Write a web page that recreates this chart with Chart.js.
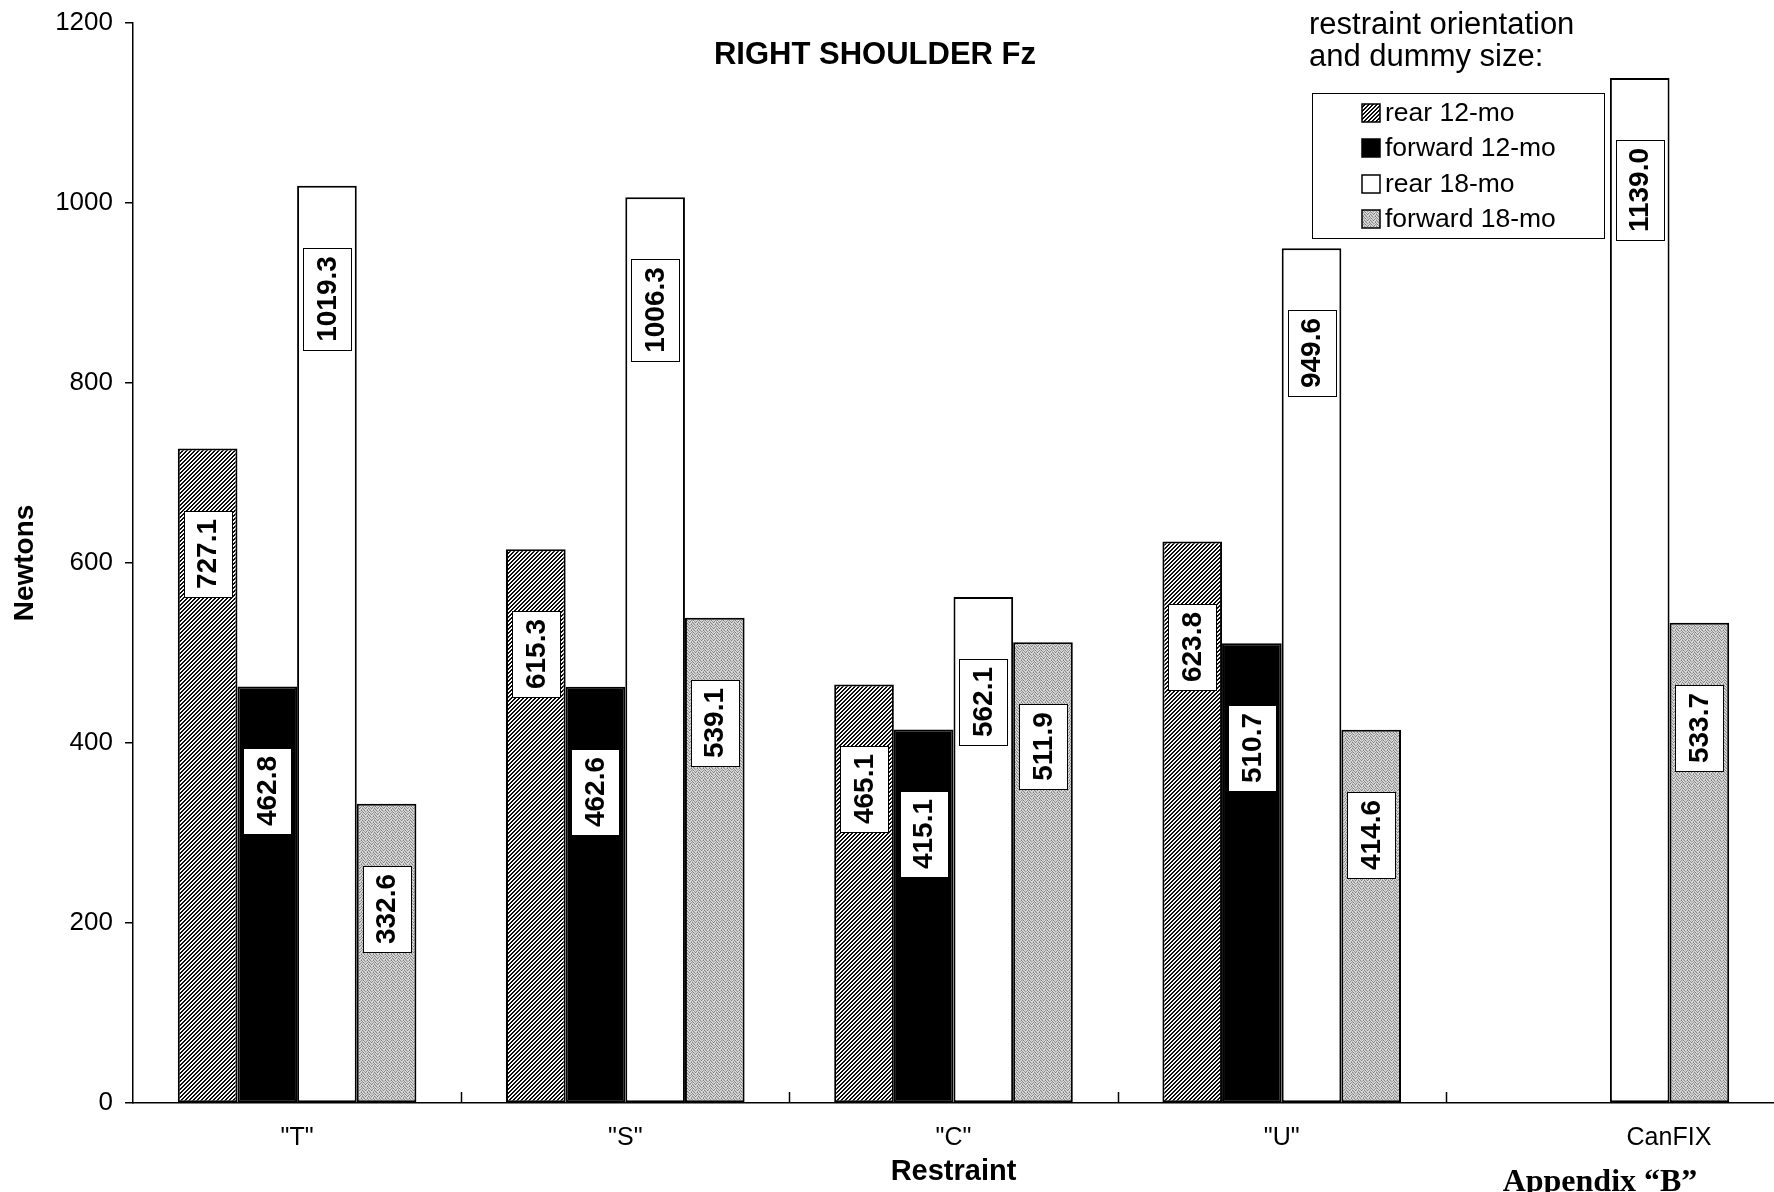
<!DOCTYPE html>
<html>
<head>
<meta charset="utf-8">
<script src="https://cdn.jsdelivr.net/npm/chart.js@4.4.1/dist/chart.umd.min.js"></script>
<style>
html,body{margin:0;padding:0;background:#fff;}
canvas{display:block;}
</style>
</head>
<body>
<canvas id="c" width="1774" height="1192"></canvas>
<script>
// ---- data ----
const categories = ['"T"', '"S"', '"C"', '"U"', 'CanFIX'];
const seriesNames = ['rear 12-mo', 'forward 12-mo', 'rear 18-mo', 'forward 18-mo'];
const rear12 = [727.1, 615.3, 465.1, 623.8, null];
const forward12 = [462.8, 462.6, 415.1, 510.7, null];
const rear18 = [1019.3, 1006.3, 562.1, 949.6, 1139.0];
const forward18 = [332.6, 539.1, 511.9, 414.6, 533.7];
const yTicks = [0, 200, 400, 600, 800, 1000, 1200];
const chartTitle = 'RIGHT SHOULDER Fz';
const legendTitle = ['restraint orientation', 'and dummy size:'];
const xTitle = 'Restraint';
const yTitle = 'Newtons';
const footerText = 'Appendix \u201CB\u201D';

// ---- styles ----
const FONT = '"Liberation Sans", Arial, Helvetica, sans-serif';
const LABEL_DROP = 62;

const canvas = document.getElementById('c');
const ctx = canvas.getContext('2d');

function makePattern(w, h, fn) {
  const c = document.createElement('canvas');
  c.width = w; c.height = h;
  const g = c.getContext('2d');
  const id = g.createImageData(w, h);
  for (let y = 0; y < h; y++) for (let x = 0; x < w; x++) {
    const v = fn(x, y); const i = (y * w + x) * 4;
    id.data[i] = id.data[i + 1] = id.data[i + 2] = v; id.data[i + 3] = 255;
  }
  g.putImageData(id, 0, 0);
  return ctx.createPattern(c, 'repeat');
}
const hatch = makePattern(4, 4, (x, y) => ((x + y) % 4 < 2 ? 10 : 250));
const stippleM = [
  [205,120,220,195,135,215],
  [185,220,140,225,200,160],
  [225,150,200,120,220,195],
  [130,215,190,225,150,215],
  [200,225,130,195,215,120],
  [220,160,215,140,190,225]
];
const stipple = makePattern(6, 6, (x, y) => stippleM[y][x]);

const fills = [hatch, '#000000', '#ffffff', stipple];
const seriesData = [rear12, forward12, rear18, forward18];

const extrasPlugin = {
  id: 'extras',
  afterDatasetsDraw(chart) {
    const c = chart.ctx;
    c.save();
    c.font = 'bold 28px ' + FONT;
    chart.data.datasets.forEach((ds, di) => {
      const meta = chart.getDatasetMeta(di);
      meta.data.forEach((el, i) => {
        const v = ds.data[i];
        if (v === null || v === undefined) return;
        const p = el.getProps(['x', 'y', 'width'], true);
        const txt = v.toFixed(1);
        const tw = c.measureText(txt).width;
        const bw = Math.round(p.width - 12), bh = Math.round(tw + 16);
        const left = Math.round(p.x - bw / 2), top = Math.round(p.y + LABEL_DROP);
        c.fillStyle = '#fff';
        c.fillRect(left, top, bw, bh);
        c.strokeStyle = '#000'; c.lineWidth = 1;
        c.strokeRect(left + 0.5, top + 0.5, bw, bh);
        c.save();
        c.translate(p.x, top + bh / 2);
        c.rotate(-Math.PI / 2);
        c.fillStyle = '#000'; c.textAlign = 'center'; c.textBaseline = 'middle';
        c.fillText(txt, 0, 1);
        c.restore();
      });
    });
    c.restore();
  },
  afterDraw(chart) {
    const c = chart.ctx;
    const xs = chart.scales.x;
    const area = chart.chartArea;
    c.save();
    // inward ticks between categories
    c.strokeStyle = '#000'; c.lineWidth = 1.5;
    for (let i = 0; i < categories.length - 1; i++) {
      const bx = Math.round((xs.getPixelForValue(i) + xs.getPixelForValue(i + 1)) / 2) + 0.5;
      c.beginPath(); c.moveTo(bx, area.bottom); c.lineTo(bx, area.bottom - 11); c.stroke();
    }
    // chart title
    c.fillStyle = '#000';
    c.font = 'bold 31px ' + FONT;
    c.textAlign = 'center'; c.textBaseline = 'alphabetic';
    c.fillText(chartTitle, 875, 64);
    // legend title
    c.font = '31px ' + FONT;
    c.textAlign = 'left';
    c.fillText(legendTitle[0], 1309, 34);
    c.fillText(legendTitle[1], 1309, 66);
    // legend box
    c.fillStyle = '#fff';
    c.fillRect(1312, 93, 292, 145);
    c.strokeStyle = '#000'; c.lineWidth = 1;
    c.strokeRect(1312.5, 93.5, 292, 145);
    const rowY = [113, 148, 184, 219];
    chart.data.datasets.forEach((ds, di) => {
      const y = rowY[di];
      c.fillStyle = ds.backgroundColor;
      c.fillRect(1362, y - 9, 18, 18);
      c.strokeStyle = '#000'; c.lineWidth = 1.5;
      c.strokeRect(1362, y - 9, 18, 18);
      c.fillStyle = '#000';
      c.font = '26.5px ' + FONT;
      c.textBaseline = 'middle';
      c.fillText(ds.label, 1385, y + 1);
    });
    // footer
    c.font = 'bold 32px "Liberation Serif", "Times New Roman", serif';
    c.textAlign = 'center'; c.textBaseline = 'alphabetic';
    c.fillStyle = '#000';
    c.fillText(footerText, 1600, 1191);
    c.restore();
  }
};

new Chart(ctx, {
  type: 'bar',
  data: {
    labels: categories,
    datasets: seriesNames.map((name, i) => ({
      label: name,
      data: seriesData[i],
      backgroundColor: fills[i],
      borderColor: '#000',
      borderWidth: 2,
      borderSkipped: false
    }))
  },
  options: {
    responsive: false,
    animation: false,
    devicePixelRatio: 1,
    layout: { padding: { top: 23, right: 0, left: 0, bottom: 0 } },
    datasets: { bar: { categoryPercentage: 0.727, barPercentage: 1 } },
    plugins: { legend: { display: false }, tooltip: { enabled: false }, title: { display: false } },
    scales: {
      x: {
        grid: { display: false, drawTicks: false },
        border: { display: true, color: '#000', width: 1.5 },
        ticks: {
          color: '#000', font: { family: FONT, size: 25 }, padding: 20,
          maxRotation: 0, autoSkip: false,
          callback: (v, i) => (i === categories.length - 1 ? ' '.repeat(17) + categories[i] : categories[i])
        },
        title: { display: true, text: xTitle, color: '#000', font: { family: FONT, size: 29, weight: 'bold' }, padding: { top: 0, bottom: 3 } },
        afterFit(s) { s.height = 89; }
      },
      y: {
        min: 0, max: 1200,
        afterBuildTicks(s) { s.ticks = yTicks.map(v => ({ value: v })); },
        grid: { display: true, drawOnChartArea: false, drawTicks: true, tickLength: 8, color: '#000', lineWidth: 1.5 },
        border: { display: true, color: '#000', width: 1.5 },
        ticks: { color: '#000', font: { family: FONT, size: 26, lineHeight: 0.9 }, padding: 12, callback: (v) => String(v) },
        title: { display: true, text: yTitle, color: '#000', font: { family: FONT, size: 28, weight: 'bold' }, padding: { top: 8, bottom: 0 } },
        afterFit(s) { s.width = 133; s.paddingTop = 0; }
      }
    }
  },
  plugins: [extrasPlugin]
});
</script>
</body>
</html>
